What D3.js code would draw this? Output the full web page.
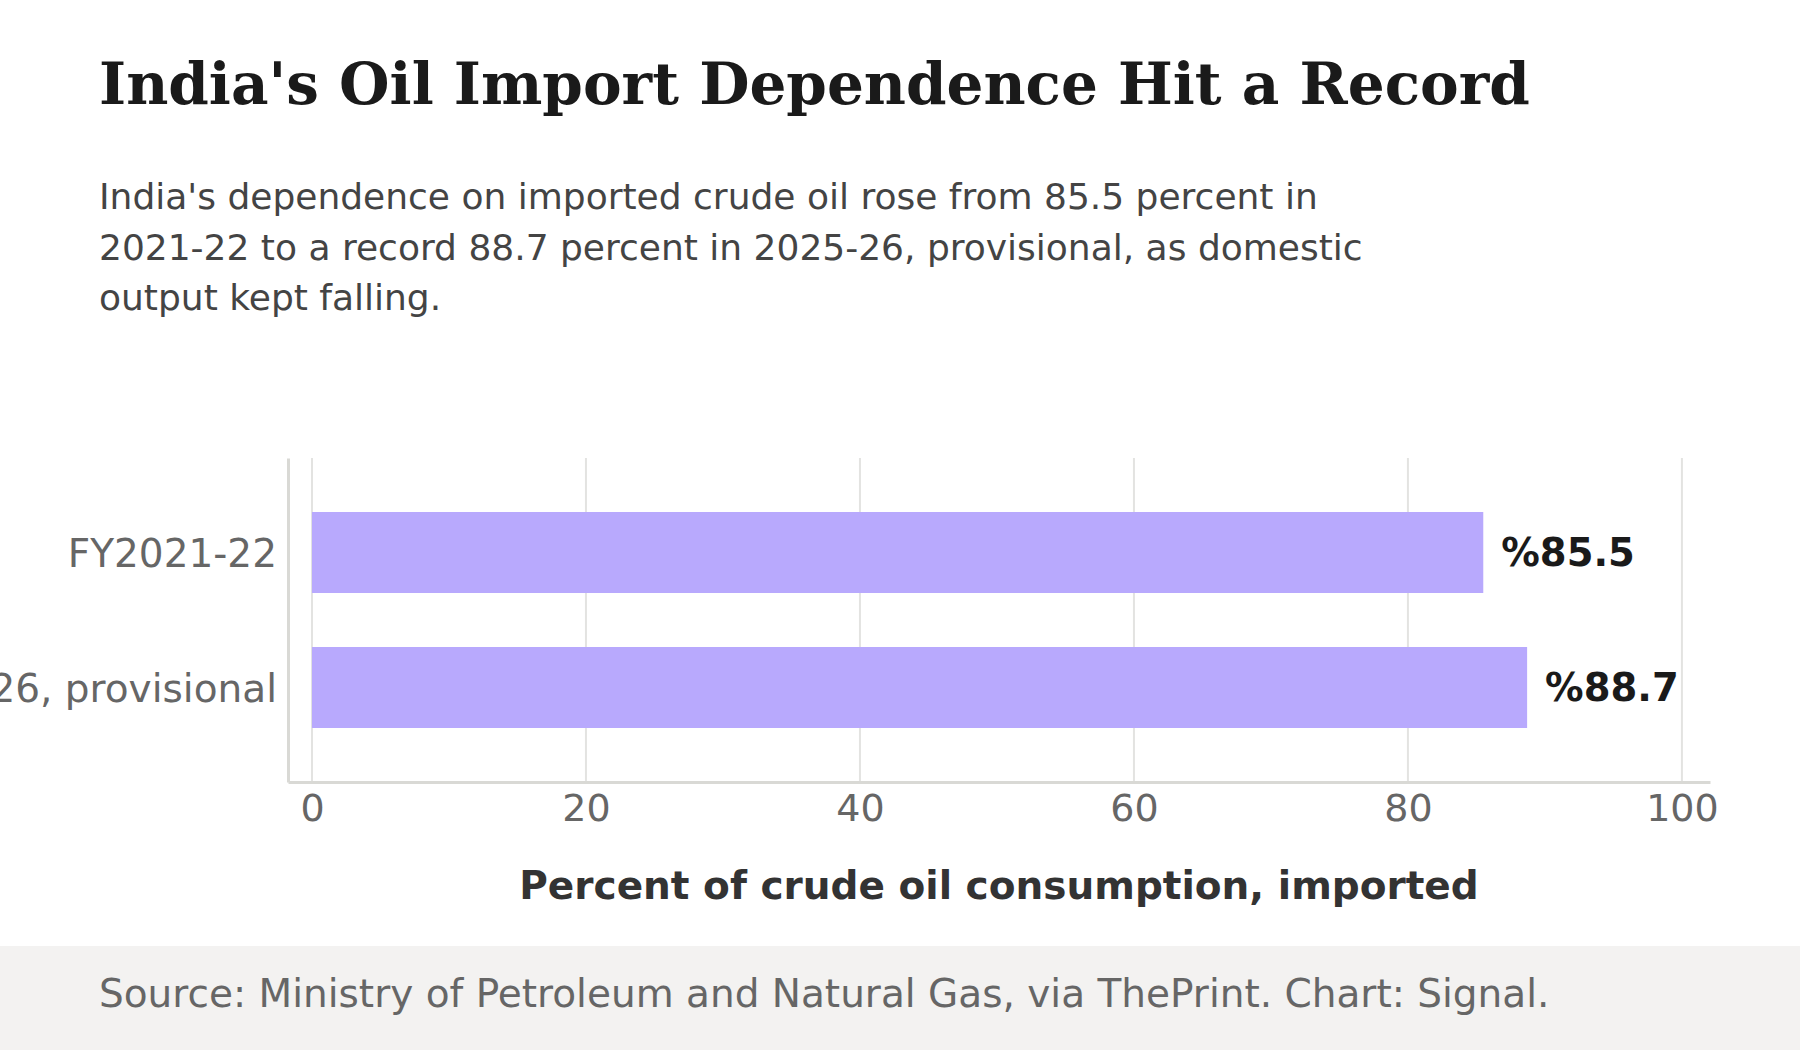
<!DOCTYPE html>
<html>
<head>
<meta charset="utf-8">
<script src="https://cdn.jsdelivr.net/npm/d3@7"></script>
<style>
  body { margin: 0; background: #fff; }
  svg { display: block; font-family: "DejaVu Sans", sans-serif; }
</style>
</head>
<body>
<div id="chart"></div>
<script>
var years = ["FY2021-22", "FY2025-26, provisional"];
var importShare = [85.5, 88.7];
var xTicks = [0, 20, 40, 60, 80, 100];
var valueLabels = ["%85.5", "%88.7"];

var subtitleLines = [
  "India's dependence on imported crude oil rose from 85.5 percent in",
  "2021-22 to a record 88.7 percent in 2025-26, provisional, as domestic",
  "output kept falling."
];

var chart = {
  width: 1800,
  height: 1050,
  top: 458,
  bottom: 782,
  left: 288,
  right: 1710,
}

var svg = d3.select("#chart")
  .append("svg")
  .attr("width", chart.width)
  .attr("height", chart.height);

svg.append("rect")
  .attr("width", chart.width)
  .attr("height", chart.height)
  .attr("fill", "#fff");

/* Title and subtitle */
svg.append("text")
  .attr("x", 99)
  .attr("y", 104)
  .style("font-family", "'DejaVu Serif', serif")
  .style("font-weight", "bold")
  .style("font-size", "58px")
  .style("fill", "#1a1a1a")
  .text("India's Oil Import Dependence Hit a Record");

svg.append("g")
  .selectAll("text")
  .data(subtitleLines)
  .enter()
  .append("text")
  .attr("x", 99)
  .attr("y", (d, i) => 209 + i * 50.5)
  .style("font-size", "36px")
  .style("fill", "#444")
  .text((d) => d);

/* Scales */
var x = d3.scaleLinear()
  .domain([-1.75, 102.05])
  .range([chart.left, chart.right]);

var y = d3.scaleBand()
  .domain(years)
  .range([chart.top, chart.bottom])
  .paddingInner(0.4)
  .paddingOuter(0.4);

var plot = svg.append("g");

/* Grid */
plot.append("g")
  .selectAll("line")
  .data(xTicks)
  .enter()
  .append("line")
  .attr("x1", (d) => x(d))
  .attr("x2", (d) => x(d))
  .attr("y1", chart.top)
  .attr("y2", chart.bottom)
  .style("stroke", "#e3e3e1")
  .style("stroke-width", 2);

/* Bars */
plot.append("g")
  .selectAll("rect")
  .data(importShare)
  .enter()
  .append("rect")
  .attr("x", x(0))
  .attr("y", (d, i) => y(years[i]))
  .attr("width", (d) => x(d) - x(0))
  .attr("height", y.bandwidth())
  .style("fill", "#b8a9fd");

plot.append("g")
  .selectAll("text")
  .data(importShare)
  .enter()
  .append("text")
  .attr("x", (d) => x(d) + 18)
  .attr("y", (d, i) => y(years[i]) + y.bandwidth() / 2)
  .attr("dy", "0.36em")
  .style("font-weight", "bold")
  .style("font-size", "38.5px")
  .style("fill", "#1a1a1a")
  .text((d, i) => valueLabels[i]);

/* Axes */
var xAxis = plot.append("g")
  .attr("transform", "translate(0," + chart.bottom + ")")
  .call(d3.axisBottom(x).tickValues(xTicks).tickSize(0).tickPadding(12));

var yAxis = plot.append("g")
  .attr("transform", "translate(" + chart.left + ",0)")
  .call(d3.axisLeft(y).tickSize(0).tickPadding(11));

[xAxis, yAxis].forEach((a) => {
  a.select(".domain")
    .style("stroke", "#d9d9d5")
    .style("stroke-width", 3);
  a.selectAll("text")
    .style("font-family", "'DejaVu Sans', sans-serif")
    .style("font-size", "38px")
    .style("fill", "#666");
});
yAxis.selectAll("text")
  .attr("dy", "0.36em")
  .style("font-size", "39px");

svg.append("text")
  .attr("x", (chart.left + chart.right) / 2)
  .attr("y", 899)
  .style("text-anchor", "middle")
  .style("font-weight", "bold")
  .style("font-size", "39px")
  .style("fill", "#333")
  .text("Percent of crude oil consumption, imported");

/* Footer */
svg.append("rect")
  .attr("x", 0)
  .attr("y", 946)
  .attr("width", chart.width)
  .attr("height", chart.height - 946)
  .style("fill", "#f3f2f1");

svg.append("text")
  .attr("x", 99)
  .attr("y", 1007)
  .style("font-size", "39px")
  .style("fill", "#666")
  .text("Source: Ministry of Petroleum and Natural Gas, via ThePrint. Chart: Signal.");
</script>
</body>
</html>
